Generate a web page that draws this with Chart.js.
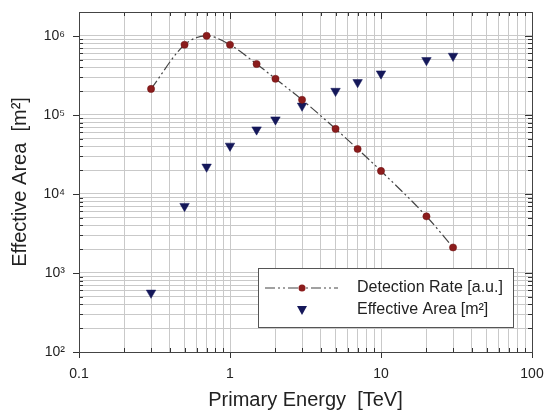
<!DOCTYPE html>
<html>
<head>
<meta charset="utf-8">
<script src="https://cdn.jsdelivr.net/npm/chart.js@4/dist/chart.umd.min.js"></script>
<style>
  body { margin: 0; background: #fff; }
</style>
</head>
<body>
<canvas id="rate-chart" width="548" height="412"></canvas>
<script>
// values
var energy = [0.3, 0.5, 0.7, 1, 1.5, 2, 3, 5, 7, 10, 20, 30];
var detectionRate = [2.13e5, 7.7e5, 1.0e6, 7.7e5, 4.4e5, 2.86e5, 1.55e5, 6.65e4, 3.7e4, 1.95e4, 5.2e3, 2.1e3];
var effectiveArea = [560, 7.0e3, 2.2e4, 4.05e4, 6.5e4, 8.7e4, 1.3e5, 2.0e5, 2.58e5, 3.32e5, 4.9e5, 5.55e5];

var xDecades = [0.1, 1, 10, 100];
var xTickLabels = ['0.1', '1', '10', '100'];
var yDecades = [1e2, 1e3, 1e4, 1e5, 1e6];
var yTickLabels = ['10²', '10³', '10⁴', '10⁵', '10⁶'];

var FONT = '"Liberation Sans", Arial, sans-serif';
Chart.defaults.font.family = FONT;
Chart.defaults.color = '#222';

// 1..9 x 10^n for every decade, up to max
function logTicks(decades, max) {
    var out = [];
    decades.forEach(function (d) {
        for (var k = 1; k <= 9; k++) {
            var v = d * k;
            if (v <= max * 1.0000001) out.push({ value: v });
        }
    });
    return out;
}
function labelFor(decades, labels, value) {
    for (var i = 0; i < decades.length; i++) {
        if (Math.abs(value / decades[i] - 1) < 1e-6) return labels[i];
    }
    return '';
}
function isMajor(decades, value) {
    return labelFor(decades, decades.map(function () { return 'x'; }), value) !== '';
}

var rateData = energy.map(function (e, i) { return { x: e, y: detectionRate[i] }; });
var areaData = energy.map(function (e, i) { return { x: e, y: effectiveArea[i] }; });

// frame, small tick marks and the boxed legend
var framePlugin = {
    id: 'frame',
    afterDraw: function (chart) {
        var ctx = chart.ctx;
        var a = chart.chartArea;
        var xs = chart.scales.x, ys = chart.scales.y;
        ctx.save();
        ctx.strokeStyle = '#333';
        ctx.lineWidth = 1;
        ctx.beginPath();
        xs.ticks.forEach(function (t) {
            var px = Math.round(xs.getPixelForValue(t.value)) + 0.5;
            var maj = isMajor(xDecades, t.value);
            ctx.moveTo(px, a.bottom); ctx.lineTo(px, maj ? a.bottom + 6 : a.bottom - 4);
            ctx.moveTo(px, a.top); ctx.lineTo(px, a.top + (maj ? 7 : 4));
        });
        ys.ticks.forEach(function (t) {
            var py = Math.round(ys.getPixelForValue(t.value)) + 0.5;
            var maj = isMajor(yDecades, t.value);
            ctx.moveTo(a.left, py); ctx.lineTo(maj ? a.left - 6 : a.left + 4, py);
            ctx.moveTo(a.right, py); ctx.lineTo(a.right - (maj ? 7 : 4), py);
        });
        ctx.stroke();
        ctx.strokeStyle = '#444';
        ctx.strokeRect(Math.round(a.left) + 0.5, Math.round(a.top) + 0.5,
            Math.round(a.right - a.left), Math.round(a.bottom - a.top));

        // legend box
        var bx = a.left + 179, by = a.top + 256, bw = 255, bh = 59;
        ctx.fillStyle = '#fff';
        ctx.fillRect(bx, by, bw, bh);
        ctx.strokeStyle = '#555';
        ctx.strokeRect(bx + 0.5, by + 0.5, bw, bh);

        var y1 = by + 20, y2 = by + 42;
        ctx.strokeStyle = '#444';
        ctx.lineWidth = 1.2;
        ctx.setLineDash([10, 3, 2, 3, 2, 3]);
        ctx.beginPath();
        ctx.moveTo(bx + 7, y1); ctx.lineTo(bx + 80, y1);
        ctx.stroke();
        ctx.setLineDash([]);
        ctx.fillStyle = '#8b1c1c';
        ctx.beginPath();
        ctx.arc(bx + 44, y1, 3.5, 0, Math.PI * 2);
        ctx.fill();
        ctx.fillStyle = '#15185a';
        ctx.beginPath();
        ctx.moveTo(bx + 39, y2 - 4); ctx.lineTo(bx + 49, y2 - 4); ctx.lineTo(bx + 44, y2 + 5);
        ctx.closePath();
        ctx.fill();

        ctx.fillStyle = '#222';
        ctx.font = '16px ' + FONT;
        ctx.textBaseline = 'middle';
        ctx.fillText('Detection Rate [a.u.]', bx + 99, y1);
        ctx.fillText('Effective Area [m²]', bx + 99, y2);
        ctx.restore();
    }
};

new Chart(document.getElementById('rate-chart'), {
    type: 'line',
    data: {
        datasets: [{
            label: 'Detection Rate [a.u.]',
            data: rateData,
            borderColor: '#444',
            borderWidth: 1.2,
            borderDash: [10, 3, 2, 3, 2, 3],
            pointStyle: 'circle',
            pointRadius: 3.6,
            pointBackgroundColor: '#8b1c1c',
            pointBorderColor: '#6a1010',
            pointBorderWidth: 0.5,
            tension: 0.4,
            cubicInterpolationMode: 'monotone',
            fill: false
        }, {
            label: 'Effective Area [m²]',
            data: areaData,
            showLine: false,
            pointStyle: 'triangle',
            rotation: 180,
            pointRadius: 5.5,
            pointBackgroundColor: '#15185a',
            pointBorderColor: '#15185a',
            pointBorderWidth: 0.5
        }]
    },
    options: {
        responsive: false,
        animation: false,
        layout: { padding: { top: 12, right: 16, left: 0, bottom: 0 } },
        plugins: {
            legend: { display: false },
            tooltip: { enabled: false }
        },
        scales: {
            x: {
                type: 'logarithmic',
                min: 0.1,
                max: 100,
                afterBuildTicks: function (scale) { scale.ticks = logTicks(xDecades, 100); },
                afterFit: function (scale) {
                    scale.height = 60;
                    scale.paddingLeft = 0;
                    scale.paddingRight = 0;
                },
                ticks: {
                    autoSkip: false,
                    maxRotation: 0,
                    padding: 14,
                    font: { size: 14 },
                    callback: function (value) { return labelFor(xDecades, xTickLabels, value); }
                },
                grid: { color: '#c9c9c9', drawTicks: false },
                border: { display: false },
                title: {
                    display: true,
                    text: 'Primary Energy  [TeV]',
                    font: { size: 20 },
                    padding: { top: 0, bottom: 0 }
                }
            },
            y: {
                type: 'logarithmic',
                min: 100,
                max: 2e6,
                afterBuildTicks: function (scale) { scale.ticks = logTicks(yDecades, 2e6); },
                afterFit: function (scale) {
                    scale.width = 79;
                    scale.paddingTop = 0;
                    scale.paddingBottom = 0;
                },
                ticks: {
                    autoSkip: false,
                    padding: 14,
                    font: { size: 14 },
                    callback: function (value) { return labelFor(yDecades, yTickLabels, value); }
                },
                grid: { color: '#c9c9c9', drawTicks: false },
                border: { display: false },
                title: {
                    display: true,
                    text: 'Effective Area  [m²]',
                    font: { size: 20 },
                    padding: { top: 8, bottom: 0 }
                }
            }
        }
    },
    plugins: [framePlugin]
});
</script>
</body>
</html>
